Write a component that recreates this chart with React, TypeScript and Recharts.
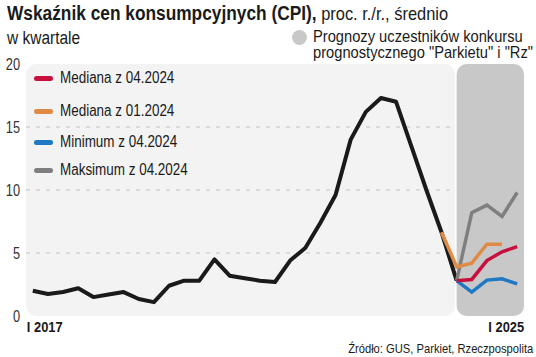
import { LineChart, Line, XAxis, YAxis, ReferenceArea, ReferenceLine } from "recharts"

const FONT = "'Liberation Sans', Arial, sans-serif"

// kwartały od I 2017 do I 2025
const quarterLabels = [
  "I 2017", "II 2017", "III 2017", "IV 2017",
  "I 2018", "II 2018", "III 2018", "IV 2018",
  "I 2019", "II 2019", "III 2019", "IV 2019",
  "I 2020", "II 2020", "III 2020", "IV 2020",
  "I 2021", "II 2021", "III 2021", "IV 2021",
  "I 2022", "II 2022", "III 2022", "IV 2022",
  "I 2023", "II 2023", "III 2023", "IV 2023",
  "I 2024", "II 2024", "III 2024", "IV 2024",
  "I 2025",
]

// CPI, I 2017 - I 2024
const cpiActual = [
  2.0, 1.75, 1.9, 2.2, 1.5, 1.7, 1.9, 1.35, 1.1, 2.4, 2.8, 2.8,
  4.5, 3.2, 3.0, 2.8, 2.7, 4.4, 5.4, 7.4, 9.6, 14.0, 16.2, 17.3,
  17.0, 13.5, 10.0, 6.65, 2.8,
]

// prognozy, I 2024 - I 2025
const median04 = [2.8, 2.9, 4.4, 5.1, 5.5]
const min04 = [2.8, 1.9, 2.85, 2.95, 2.55]
const max04 = [2.8, 8.2, 8.8, 7.9, 9.8]
// prognoza ze stycznia, IV 2023 - IV 2024
const median01 = [6.65, 3.9, 4.2, 5.7, 5.7]

const yTicks = [0, 5, 10, 15, 20]
const gridValues = [5, 10, 15]

const forecastStart = 28
const median01Start = 27

const data = quarterLabels.map((q, i) => ({
  i,
  q,
  cpi: i < cpiActual.length ? cpiActual[i] : null,
  med04: i >= forecastStart ? median04[i - forecastStart] : null,
  min04: i >= forecastStart ? min04[i - forecastStart] : null,
  max04: i >= forecastStart ? max04[i - forecastStart] : null,
  med01: i >= median01Start && i - median01Start < median01.length ? median01[i - median01Start] : null,
}))

const legendItems = [
  { label: "Mediana z 04.2024", color: "#c8103e", top: 78 },
  { label: "Mediana z 01.2024", color: "#df8b45", top: 111 },
  { label: "Minimum z 04.2024", color: "#1f78c1", top: 142 },
  { label: "Maksimum z 04.2024", color: "#7f7f7f", top: 170 },
]

// brak czcionki wąskiej - ściskamy tekst w poziomie
const Cond = ({ s, origin = "left", children }: any) => (
  <span style={{ display: "inline-block", transform: `scaleX(${s})`, transformOrigin: origin, whiteSpace: "nowrap" }}>
    {children}
  </span>
)

const roundedRect = (fill: string) => (p: any) => (
  <rect x={p.x} y={p.y} width={p.width} height={p.height} rx={10} ry={10} fill={fill} />
)

const XTick = (props: any) => {
  const { x, y, payload } = props
  const first = payload.value === 0
  const tx = first ? x - 6 : x + 7
  return (
    <text
      transform={`translate(${tx},${y + 16}) scale(0.86,1)`}
      textAnchor={first ? "start" : "end"}
      fontFamily={FONT}
      fontSize={15}
      fontWeight="bold"
      fill="#1a1a1a"
    >
      {quarterLabels[payload.value]}
    </text>
  )
}

const YTick = (props: any) => {
  const { x, y, payload } = props
  return (
    <text
      transform={`translate(${x},${y}) scale(0.8,1)`}
      dy="0.355em"
      textAnchor="end"
      fontFamily={FONT}
      fontSize={16}
      fill="#333"
    >
      {payload.value}
    </text>
  )
}

export default function App() {
  return (
    <div style={{ position: "absolute", left: 0, top: 0, width: 536, height: 357, background: "#fff", fontFamily: FONT, color: "#1a1a1a" }}>
      <div style={{ position: "absolute", left: 7, top: 1, fontSize: 20, lineHeight: "24px" }}>
        <Cond s={0.865}>
          <span style={{ fontWeight: "bold" }}>Wskaźnik cen konsumpcyjnych (CPI),</span>
          <span style={{ fontSize: 19 }}> proc. r./r., średnio</span>
        </Cond>
      </div>
      <div style={{ position: "absolute", left: 7, top: 27, fontSize: 18, lineHeight: "22px" }}>
        <Cond s={0.86}>w kwartale</Cond>
      </div>

      <div style={{ position: "absolute", left: 292, top: 30, width: 15, height: 15, borderRadius: "50%", background: "#c8c8c8" }} />
      <div style={{ position: "absolute", left: 313, top: 28, fontSize: 16.5, lineHeight: "16px" }}>
        <Cond s={0.89}>
          Prognozy uczestników konkursu
          <br />
          prognostycznego "Parkietu" i "Rz"
        </Cond>
      </div>

      <LineChart width={536} height={357} data={data} margin={{ top: 64, right: 12, bottom: 11, left: 6 }}>
        <XAxis
          type="number"
          dataKey="i"
          domain={[-0.45, 32.45]}
          ticks={[0, 32]}
          axisLine={false}
          tickLine={false}
          tickSize={0}
          tickMargin={0}
          height={30}
          tick={<XTick />}
        />
        <YAxis
          type="number"
          domain={[0, 20]}
          ticks={yTicks}
          width={20}
          axisLine={false}
          tickLine={false}
          tickSize={4}
          tickMargin={2}
          tick={<YTick />}
        />
        <ReferenceArea x1={-0.45} x2={27.9} y1={0} y2={20} shape={roundedRect("#f3f3f3")} />
        <ReferenceArea x1={28.0} x2={32.45} y1={0} y2={20} shape={roundedRect("#c8c8c8")} />
        {gridValues.map((v) => (
          <ReferenceLine
            key={v}
            segment={[{ x: -0.45, y: v }, { x: 27.9, y: v }]}
            stroke="#c4c4c4"
            strokeDasharray="4 6"
          />
        ))}
        <Line dataKey="cpi" stroke="#1a1a1a" strokeWidth={4} dot={false} isAnimationActive={false} strokeLinejoin="round" />
        <Line dataKey="max04" stroke="#7f7f7f" strokeWidth={3.5} dot={false} isAnimationActive={false} />
        <Line dataKey="min04" stroke="#1f78c1" strokeWidth={3.5} dot={false} isAnimationActive={false} />
        <Line dataKey="med01" stroke="#df8b45" strokeWidth={3.5} dot={false} isAnimationActive={false} />
        <Line dataKey="med04" stroke="#c8103e" strokeWidth={3.5} dot={false} isAnimationActive={false} />
      </LineChart>

      {legendItems.map((it) => (
        <div key={it.label} style={{ position: "absolute", left: 34, top: it.top - 10, height: 20, display: "flex", alignItems: "center", whiteSpace: "nowrap" }}>
          <div style={{ width: 19, height: 5, borderRadius: 3, background: it.color, marginRight: 7, flexShrink: 0 }} />
          <span style={{ fontSize: 16 }}>
            <Cond s={0.84}>{it.label}</Cond>
          </span>
        </div>
      ))}

      <div style={{ position: "absolute", right: 3, top: 341, fontSize: 13, lineHeight: "16px" }}>
        <Cond s={0.86} origin="right">Źródło: GUS, Parkiet, Rzeczpospolita</Cond>
      </div>
    </div>
  )
}
